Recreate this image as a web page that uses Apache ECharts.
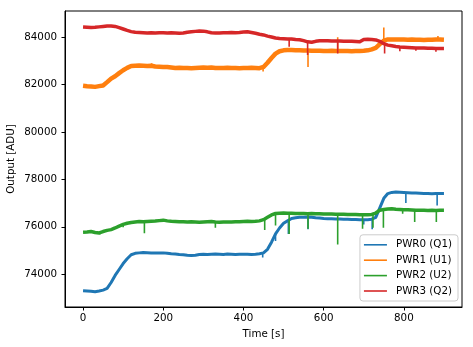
<!DOCTYPE html>
<html>
<head>
<meta charset="utf-8">
<script src="https://cdn.jsdelivr.net/npm/echarts@6/dist/echarts.min.js"></script>
<style>html,body{margin:0;padding:0;background:#fff}#c{width:473px;height:347px}</style>
</head>
<body>
<div id="c"></div>
<script>
// Time samples [s], every 10 s
const times = [0,10,20,30,40,50,60,70,80,90,100,110,120,130,140,150,160,170,180,190,200,210,220,230,240,250,260,270,280,290,300,310,320,330,340,350,360,370,380,390,400,410,420,430,440,450,460,470,480,490,500,510,520,530,540,550,560,570,580,590,600,610,620,630,640,650,660,670,680,690,700,710,720,730,740,750,760,770,780,790,800,810,820,830,840,850,860,870,880,890,900];

const seriesNames = ['PWR0 (Q1)', 'PWR1 (U1)', 'PWR2 (U2)', 'PWR3 (Q2)'];
const colors = ['#1f77b4', '#ff7f0e', '#2ca02c', '#d62728'];

const pwr0 = [73300,73290,73280,73260,73290,73330,73400,73650,73950,74200,74450,74650,74820,74880,74900,74920,74910,74900,74890,74900,74900,74880,74860,74850,74830,74820,74800,74790,74800,74830,74840,74830,74840,74850,74840,74830,74850,74840,74830,74840,74840,74840,74830,74840,74860,74900,75050,75350,75700,75950,76150,76250,76350,76380,76400,76400,76410,76400,76380,76370,76350,76340,76340,76330,76330,76320,76320,76310,76310,76300,76300,76300,76320,76400,76800,77200,77400,77450,77470,77460,77450,77440,77430,77420,77410,77400,77400,77390,77400,77400,77400];
const pwr1 = [81950,81930,81920,81900,81930,81960,82100,82250,82350,82480,82600,82700,82780,82790,82800,82790,82780,82790,82760,82750,82740,82740,82720,82700,82710,82700,82700,82690,82700,82710,82720,82710,82720,82700,82700,82700,82710,82700,82700,82690,82700,82700,82710,82700,82690,82740,82920,83120,83300,83400,83440,83450,83450,83440,83440,83430,83430,83420,83420,83420,83410,83410,83420,83410,83410,83410,83410,83400,83410,83410,83420,83440,83480,83540,83700,83850,83900,83900,83900,83900,83900,83890,83900,83890,83890,83880,83890,83890,83900,83900,83890];
const pwr2 = [75770,75780,75800,75760,75740,75800,75850,75880,75950,76030,76100,76150,76180,76200,76220,76210,76220,76230,76240,76260,76280,76250,76230,76220,76210,76210,76200,76210,76200,76190,76200,76210,76220,76200,76190,76200,76200,76200,76210,76210,76220,76230,76220,76230,76250,76300,76400,76500,76560,76570,76580,76570,76570,76560,76560,76560,76550,76560,76550,76550,76540,76540,76540,76530,76530,76530,76520,76520,76520,76510,76510,76510,76520,76580,76700,76730,76750,76760,76740,76730,76720,76720,76710,76700,76700,76700,76690,76700,76690,76700,76700];
const pwr3 = [84420,84410,84400,84410,84430,84450,84470,84470,84450,84400,84340,84280,84230,84200,84190,84180,84170,84180,84170,84180,84180,84170,84180,84170,84160,84170,84200,84220,84240,84260,84250,84220,84180,84170,84170,84180,84180,84190,84180,84190,84210,84220,84190,84160,84120,84090,84040,84000,83960,83940,83930,83920,83920,83900,83890,83850,83800,83780,83820,83840,83840,83840,83830,83830,83830,83820,83820,83820,83810,83800,83900,83910,83900,83880,83820,83720,83660,83630,83600,83580,83570,83560,83550,83540,83540,83540,83530,83530,83520,83520,83520];

// Glitch spikes: [time, value]
const spikes0 = [[448,74700],[480,75400],[512,75700],[561,75900],[700,76100],[721,75900],[805,77000],[883,76900]];
const spikes1 = [[171,82900],[449,82550],[561,82740],[635,83990],[750,84400],[885,84050]];
const spikes2 = [[42,75680],[100,75980],[153,75730],[330,75960],[453,75870],[480,76050],[514,75700],[561,75920],[635,75250],[697,75920],[723,75960],[749,75960],[797,76550],[827,76200],[881,76200]];
const spikes3 = [[514,83590],[560,83240],[635,83310],[752,83310],[790,83400],[830,83420],[880,83380]];

const xTicks = [0,200,400,600,800];
const yTicks = [74000,76000,78000,80000,82000,84000];

const allValues = [pwr0, pwr1, pwr2, pwr3];
const allSpikes = [spikes0, spikes1, spikes2, spikes3];
const widths = [3, 4.5, 3.5, 3.5];

const FONT = 'DejaVu Sans';
const FS = 10.3;

const series = [];
allValues.forEach((vals, i) => {
  series.push({
    name: seriesNames[i], type: 'line', showSymbol: false, symbol: 'none',
    data: times.map((t, k) => [t, vals[k]]),
    lineStyle: { width: widths[i], color: colors[i], join: 'round' },
    itemStyle: { color: colors[i] },
    animation: false, silent: true
  });
  const sd = [];
  allSpikes[i].forEach(([t, v]) => {
    const b = vals[Math.round(t / 10)];
    sd.push([t, b], [t, v], [t, null]);
  });
  series.push({
    name: seriesNames[i], type: 'line', showSymbol: false, symbol: 'none',
    data: sd, connectNulls: false,
    lineStyle: { width: 1.6, color: colors[i] },
    itemStyle: { color: colors[i] },
    animation: false, silent: true
  });
});

const plain = v => String(Math.round(v));

const chart = echarts.init(document.getElementById('c'), null, { renderer: 'canvas' });
chart.setOption({
  animation: false,
  backgroundColor: '#fff',
  textStyle: { fontFamily: FONT },
  grid: { left: 65, right: 11, top: 11, bottom: 40, show: true, borderColor: '#000', borderWidth: 1, backgroundColor: 'transparent', containLabel: false, outerBoundsMode: 'none' },
  xAxis: {
    type: 'value', min: -45, max: 945,
    name: 'Time [s]', nameLocation: 'middle', nameGap: 22, nameMoveOverlap: false,
    nameTextStyle: { fontFamily: FONT, fontSize: FS, color: '#000' },
    axisLine: { show: true, onZero: false, lineStyle: { color: '#000', width: 1 } },
    axisTick: { show: true, length: 3.5, customValues: xTicks, lineStyle: { color: '#000', width: 1 } },
    axisLabel: { customValues: xTicks, formatter: plain, margin: 6, fontFamily: FONT, fontSize: FS, color: '#000' },
    splitLine: { show: false }
  },
  yAxis: {
    type: 'value', min: 72618, max: 85099,
    name: 'Output [ADU]', nameLocation: 'middle', nameGap: 49, nameMoveOverlap: false,
    nameTextStyle: { fontFamily: FONT, fontSize: FS, color: '#000' },
    axisLine: { show: true, onZero: false, lineStyle: { color: '#000', width: 1 } },
    axisTick: { show: true, length: 3.5, customValues: yTicks, lineStyle: { color: '#000', width: 1 } },
    axisLabel: { customValues: yTicks, formatter: plain, margin: 8, fontFamily: FONT, fontSize: FS, color: '#000' },
    splitLine: { show: false }
  },
  legend: {
    data: seriesNames,
    orient: 'vertical', right: 15, bottom: 46,
    icon: 'rect', itemWidth: 23, itemHeight: 1.6, itemGap: 3.4,
    padding: [4, 6, 4, 4],
    backgroundColor: 'rgba(255,255,255,0.8)', borderColor: '#cccccc', borderWidth: 1, borderRadius: 3,
    textStyle: { fontFamily: FONT, fontSize: FS, color: '#000', lineHeight: 12, padding: [0, 0, 0, 4] },
    selectedMode: false
  },
  series: series
});
</script>
</body>
</html>
